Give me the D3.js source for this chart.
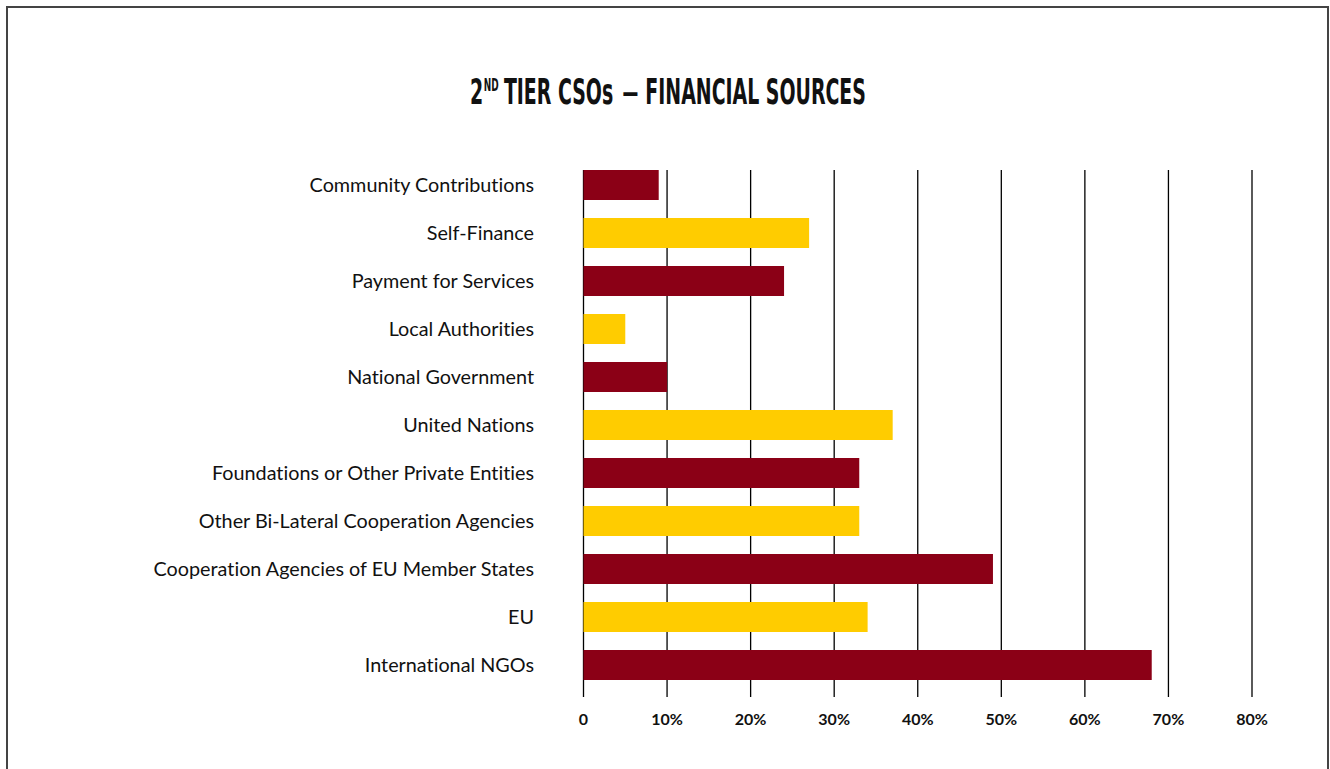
<!DOCTYPE html>
<html>
<head>
<meta charset="utf-8">
<script src="https://cdn.jsdelivr.net/npm/d3@7"></script>
<style>
  html, body { margin: 0; padding: 0; background: #fff; }
  svg { display: block; }
  text { font-variant-ligatures: none; }
</style>
</head>
<body>
<svg id="chart" width="1330" height="769"></svg>
<script>
// Financial sources of 2nd tier CSOs (share of organisations, %)
const categories = [
  "Community Contributions",
  "Self-Finance",
  "Payment for Services",
  "Local Authorities",
  "National Government",
  "United Nations",
  "Foundations or Other Private Entities",
  "Other Bi-Lateral Cooperation Agencies",
  "Cooperation Agencies of EU Member States",
  "EU",
  "International NGOs"
];
const values = [9, 27, 24, 5, 10, 37, 33, 33, 49, 34, 68];
const tickValues = [0, 10, 20, 30, 40, 50, 60, 70, 80];
const tickLabels = ["0", "10%", "20%", "30%", "40%", "50%", "60%", "70%", "80%"];
const barColors = ["#8b0016", "#ffcc00"];

const svg = d3.select("#chart");

// outer frame
svg.append("rect")
  .attr("x", 7).attr("y", 7)
  .attr("width", 1321).attr("height", 780)
  .attr("fill", "none")
  .attr("stroke", "#444")
  .attr("stroke-width", 2);

const x = d3.scaleLinear().domain([0, 80]).range([583.5, 1252]);
const y = d3.scaleBand().domain(categories).range([161, 689]).paddingInner(0.375).paddingOuter(0.1875);

// vertical gridlines
svg.append("g").selectAll("line")
  .data(tickValues)
  .join("line")
  .attr("x1", d => x(d)).attr("x2", d => x(d))
  .attr("y1", y(categories[0]))
  .attr("y2", 697)
  .attr("stroke", "#000")
  .attr("stroke-width", 1.3);

// bars
svg.append("g").selectAll("rect")
  .data(values)
  .join("rect")
  .attr("x", x(0))
  .attr("y", (d, i) => y(categories[i]))
  .attr("width", d => x(d) - x(0))
  .attr("height", y.bandwidth())
  .attr("fill", (d, i) => barColors[i % 2]);

// category labels
svg.append("g").selectAll("text")
  .data(categories)
  .join("text")
  .attr("x", 534)
  .attr("y", d => y(d) + y.bandwidth() / 2)
  .attr("dy", "0.35em")
  .attr("text-anchor", "end")
  .attr("font-family", "Lato, sans-serif")
  .attr("font-size", 19.8)
  .attr("fill", "#111")
  .text(d => d);

// x axis tick labels
svg.append("g").selectAll("text")
  .data(tickValues)
  .join("text")
  .attr("x", d => x(d))
  .attr("y", 725)
  .attr("text-anchor", "middle")
  .attr("font-family", "Lato, sans-serif")
  .attr("font-weight", 700)
  .attr("font-size", 16)
  .attr("fill", "#111")
  .text((d, i) => tickLabels[i]);

// title: condensed caps with a superscript ordinal, fitted to its width
const titleFont = "'Liberation Sans Narrow', 'DejaVu Sans Condensed', sans-serif";
const titleParts = [
  { text: "2", size: 36, base: 104, gap: 1 },
  { text: "ND", size: 17, base: 91, gap: 9 },
  { text: "TIER CSOs", size: 36, base: 104, gap: 16 },
  { text: "\u2014", size: 30, base: 102, gap: 12 },
  { text: "FINANCIAL SOURCES", size: 36, base: 104, gap: 0 }
];
const tg = svg.append("g");
let cursor = 0;
titleParts.forEach(p => {
  const t = tg.append("text")
    .attr("x", cursor)
    .attr("y", p.base)
    .attr("font-family", titleFont)
    .attr("font-weight", 700)
    .attr("font-size", p.size)
    .attr("fill", "#111")
    .text(p.text);
  cursor += t.node().getComputedTextLength() + p.gap;
});
const targetWidth = 396;
const sx = targetWidth / cursor;
tg.attr("transform", `translate(${470},0) scale(${sx},1)`);
</script>
</body>
</html>
